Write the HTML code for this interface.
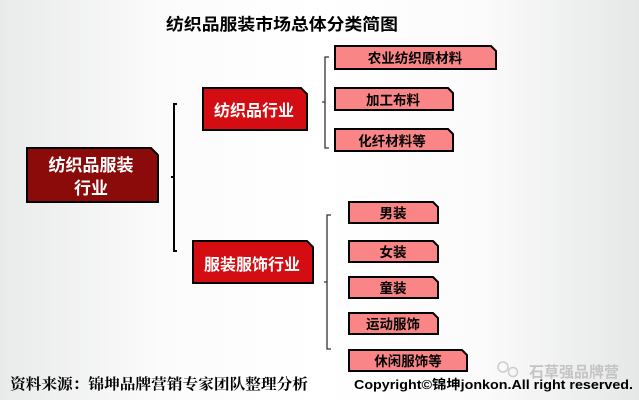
<!DOCTYPE html>
<html><head><meta charset="utf-8"><style>
html,body{margin:0;padding:0;}
body{width:639px;height:400px;overflow:hidden;background:linear-gradient(90deg,#e9eaea 0%,#fbfbfb 25%,#ffffff 50%,#fbfbfb 75%,#e6e7e7 100%);}
svg{display:block}
text{font-family:"Liberation Sans","Noto Sans CJK SC",sans-serif;font-weight:bold;}
</style></head><body>
<svg width="639" height="400" viewBox="0 0 639 400" xmlns="http://www.w3.org/2000/svg">
<text x="282" y="30" font-size="16.5" text-anchor="middle" fill="#000" textLength="232" lengthAdjust="spacingAndGlyphs">纺织品服装市场总体分类简图</text>

<path d="M27,148 H151 L158,155 V202 H27 Z" fill="#8b0a0a" stroke="#000" stroke-width="2"/>
<text x="91" y="171" font-size="17" fill="#fff" text-anchor="middle">纺织品服装</text>
<text x="91" y="194" font-size="17" fill="#fff" text-anchor="middle">行业</text>

<path d="M177,104 H174 V251 H177 M174,177 H171" fill="none" stroke="#000" stroke-width="2"/>

<path d="M203,88 H301 L307,94 V130 H203 Z" fill="#d40d12" stroke="#000" stroke-width="2"/>
<text x="254" y="116" font-size="16" fill="#fff" text-anchor="middle">纺织品行业</text>
<path d="M193,241 H307 L313,247 V283 H193 Z" fill="#d40d12" stroke="#000" stroke-width="2"/>
<text x="252" y="270" font-size="16" fill="#fff" text-anchor="middle">服装服饰行业</text>

<path d="M329,57 H325 V148 H329 M325,102 H322" fill="none" stroke="#333" stroke-width="1.3"/>
<g fill="#f98586" stroke="#000" stroke-width="2">
<path d="M335,46 H491 L496,51 V69 H335 Z"/>
<path d="M335,88 H448 L453,93 V110 H335 Z"/>
<path d="M335,129 H448 L453,134 V151 H335 Z"/>
</g>
<g font-size="13.5" fill="#000" text-anchor="middle">
<text x="415" y="63">农业纺织原材料</text>
<text x="393" y="105">加工布料</text>
<text x="392" y="146">化纤材料等</text>
</g>

<path d="M331,215 H327 V349 H331 M327,282 H324" fill="none" stroke="#333" stroke-width="1.3"/>
<g fill="#f98586" stroke="#000" stroke-width="2">
<path d="M349,202 H433 L438,207 V223 H349 Z"/>
<path d="M349,241 H433 L438,246 V262 H349 Z"/>
<path d="M349,277 H433 L438,282 V298 H349 Z"/>
<path d="M349,313 H433 L438,318 V334 H349 Z"/>
<path d="M349,350 H462 L467,355 V371 H349 Z"/>
</g>
<g font-size="13.5" fill="#000" text-anchor="middle">
<text x="393" y="218">男装</text>
<text x="393" y="257">女装</text>
<text x="393" y="293">童装</text>
<text x="393" y="329">运动服饰</text>
<text x="408" y="366">休闲服饰等</text>
</g>

<text x="529" y="377" font-size="15" fill="#c4c4c4" font-weight="normal" textLength="90" lengthAdjust="spacingAndGlyphs">石草强品牌营</text>
<circle cx="503" cy="367" r="5" fill="none" stroke="#ccc" stroke-width="1.5"/>
<circle cx="513" cy="372" r="4.5" fill="none" stroke="#ccc" stroke-width="1.5"/>

<text x="10" y="389" font-size="15" fill="#000" style="font-family:'Liberation Serif','Noto Serif CJK SC',serif" textLength="298" lengthAdjust="spacingAndGlyphs">资料来源：锦坤品牌营销专家团队整理分析</text>
<text x="354" y="389" font-size="13" fill="#000" textLength="279" lengthAdjust="spacingAndGlyphs">Copyright©锦坤jonkon.All right reserved.</text>
</svg>
</body></html>
